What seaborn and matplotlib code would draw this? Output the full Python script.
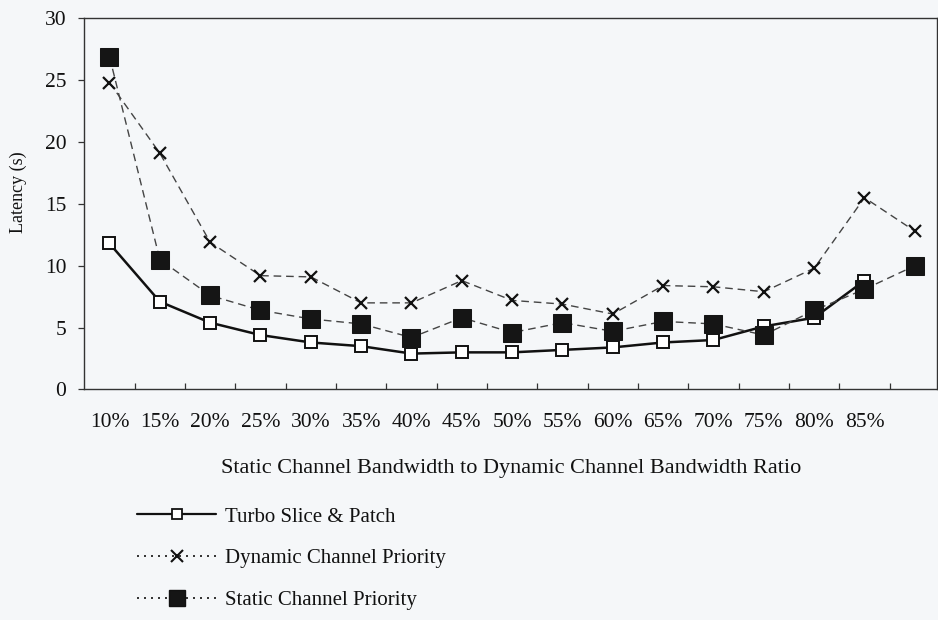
import numpy as np
import pandas as pd
import matplotlib
matplotlib.use("Agg")
import matplotlib.pyplot as plt
from matplotlib.lines import Line2D
from matplotlib.ticker import FixedLocator, NullFormatter
import seaborn as sns

# Bandwidth ratios (the last position carries no label)
ratio_labels = ["10%", "15%", "20%", "25%", "30%", "35%", "40%", "45%",
                "50%", "55%", "60%", "65%", "70%", "75%", "80%", "85%"]
n_points = 17

# Latency in seconds for each scheme
turbo = [11.8, 7.1, 5.4, 4.4, 3.8, 3.5, 2.9, 3.0, 3.0, 3.2, 3.4, 3.8, 4.0,
         5.1, 5.8, 8.8, np.nan]
dynamic = [24.8, 19.1, 11.9, 9.2, 9.1, 7.0, 7.0, 8.8, 7.2, 6.9, 6.1, 8.4,
           8.3, 7.9, 9.8, 15.5, 12.8]
static = [26.9, 10.5, 7.6, 6.4, 5.7, 5.3, 4.2, 5.8, 4.6, 5.4, 4.7, 5.5, 5.3,
          4.4, 6.4, 8.1, 10.0]

series_names = ["Turbo Slice & Patch", "Dynamic Channel Priority",
                "Static Channel Priority"]

sns.set_style("ticks")
plt.rcParams["font.family"] = ["Liberation Serif", "DejaVu Serif"]

bg = "#f5f7f9"
ink = "#111111"
fig = plt.figure(figsize=(9.38, 6.2), dpi=100, facecolor=bg)
ax = fig.add_axes([0.0899, 0.3718, 0.909, 0.5987], facecolor=bg)

pos = np.arange(n_points)
df = pd.DataFrame({"pos": pos, "turbo": turbo, "dynamic": dynamic,
                   "static": static})

dash = (0, (5.5, 3.5))
sns.lineplot(data=df, x="pos", y="dynamic", ax=ax, color="#444444",
             linewidth=1.0, linestyle=dash, marker="x", markersize=9,
             markeredgewidth=1.6, markeredgecolor=ink, zorder=2)
sns.lineplot(data=df.dropna(subset=["turbo"]), x="pos", y="turbo", ax=ax,
             color=ink, linewidth=1.8, marker="s", markersize=8.5,
             markerfacecolor="white", markeredgecolor=ink,
             markeredgewidth=1.4, zorder=3)
sns.lineplot(data=df, x="pos", y="static", ax=ax, color="#444444",
             linewidth=1.0, linestyle=dash, marker="s", markersize=13,
             markerfacecolor="#151515", markeredgecolor="#151515",
             zorder=4)

ax.set_xlim(-0.5, 16.44)
ax.set_ylim(0, 30)
ax.set_yticks([0, 5, 10, 15, 20, 25, 30])
ax.set_xticks(np.arange(len(ratio_labels)))
ax.set_xticklabels(ratio_labels)
ax.xaxis.set_minor_locator(FixedLocator(np.arange(0.5, 16.0, 1.0)))
ax.xaxis.set_minor_formatter(NullFormatter())
ax.tick_params(axis="x", which="major", length=0, pad=17, labelsize=15.5,
               colors=ink)
ax.tick_params(axis="x", which="minor", direction="in", length=4,
               width=0.9, color="#333333")
ax.tick_params(axis="y", direction="out", length=4, width=0.9,
               color="#333333", labelsize=15.5, labelcolor=ink, pad=9)

for side in ["left", "right", "top", "bottom"]:
    ax.spines[side].set_visible(True)
    ax.spines[side].set_linewidth(1.0)
    ax.spines[side].set_color("#333333")

ax.set_xlabel("Static Channel Bandwidth to Dynamic Channel Bandwidth Ratio",
              fontsize=16, color=ink, labelpad=19.5)
ax.set_ylabel("Latency (s)", fontsize=13, color=ink)
ax.yaxis.set_label_coords(-0.067, 0.532)

handles = [
    Line2D([], [], color=ink, linewidth=1.6, marker="s",
           markersize=7, markerfacecolor="white", markeredgewidth=1.3),
    Line2D([], [], color=ink, linewidth=1.2, linestyle=(0, (1.2, 3)),
           marker="x", markersize=8, markeredgewidth=1.5),
    Line2D([], [], color=ink, linewidth=1.2, linestyle=(0, (1.2, 3)),
           marker="s", markersize=12, markerfacecolor="#151515"),
]
fig.legend(handles, series_names, loc="upper left",
           bbox_to_anchor=(0.146, 1 - 507 / 620),
           bbox_transform=fig.transFigure,
           frameon=False, fontsize=15, handlelength=3.8, handletextpad=0.45,
           labelspacing=1.06, borderaxespad=0, borderpad=0,
           labelcolor=ink)

fig.savefig("out.png", dpi=100, facecolor=bg)
